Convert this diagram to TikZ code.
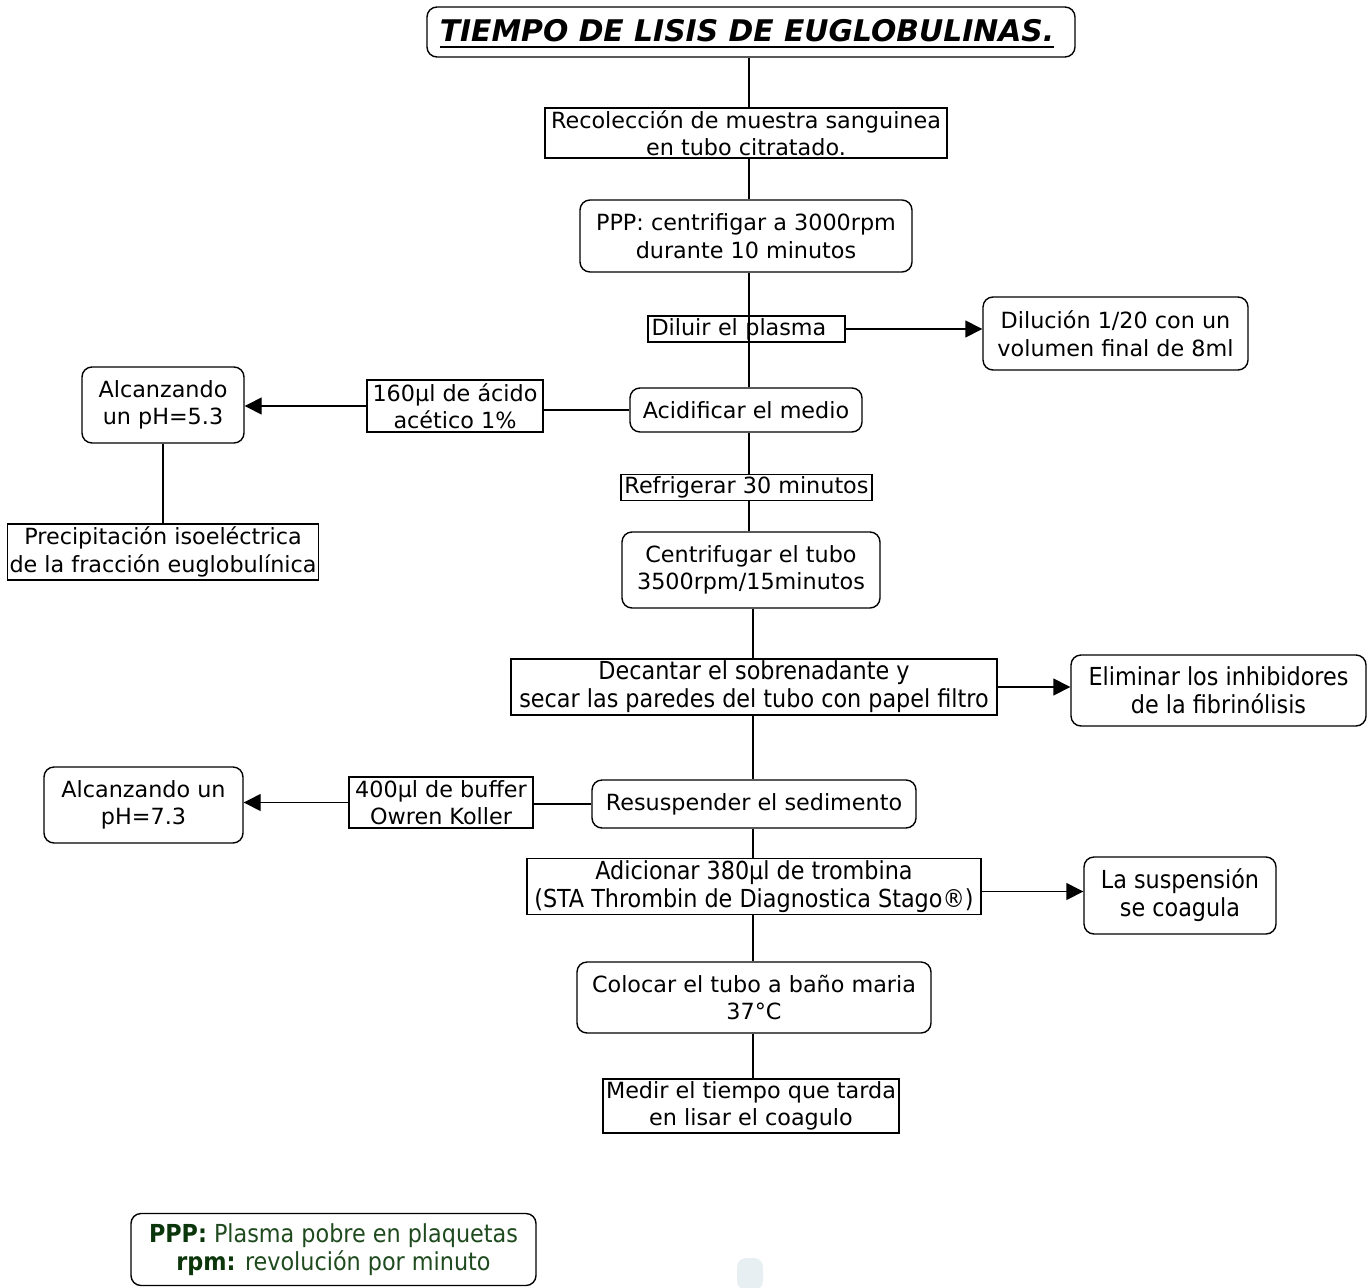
\documentclass[tikz,border=0pt]{standalone}
\usepackage{fontspec}
\setmainfont{DejaVu Sans}
\newfontfamily\condfont{DejaVu Sans Condensed}
\usetikzlibrary{arrows.meta}
\definecolor{legendgreen}{HTML}{1E4A1E}
\definecolor{legenddark}{HTML}{0B360B}
\definecolor{faintblue}{HTML}{E8EFF2}
\newcommand{\mainsize}{\fontsize{22.3}{27.5}\selectfont}
\newcommand{\condsize}{\condfont\fontsize{24.8}{28}\selectfont}

\begin{document}
\begin{tikzpicture}[x=1pt,y=-1pt,
  box/.style={draw, line width=1.4pt, inner sep=2pt, align=center, font=\mainsize},
  sq/.style={box},
  rbox/.style={box, rounded corners=10pt},
  cond/.style={font=\condsize},
  link/.style={line width=1.4pt},
  arr/.style={link, -{Triangle[length=17pt,width=17pt]}}]
\useasboundingbox (0,0) rectangle (1372,1287);

% title
\node[rbox, minimum width=648, minimum height=50] (title) at (751,32) {};
\node[inner sep=0pt, font=\fontsize{29.8}{34}\selectfont\bfseries\itshape] (titletext) at (747,31)
  {TIEMPO DE LISIS DE EUGLOBULINAS.};
\draw[line width=2.4pt] ([yshift=-5pt]titletext.base west) -- ([yshift=-5pt]titletext.base east);

% main column
\node[sq, minimum width=402, minimum height=50] (recol) at (746,133) {Recolección de muestra sanguinea\\en tubo citratado.};
\node[rbox, minimum width=332, minimum height=72] (ppp) at (746,236) {PPP: centrifigar a 3000rpm\\durante 10 minutos};
\node[sq, minimum width=197, minimum height=26, text width=190, align=left, inner xsep=3pt] (diluir) at (746.5,329) {Diluir el plasma};
\node[rbox, minimum width=232, minimum height=44] (acid) at (746,410) {Acidificar el medio};
\node[sq, minimum width=251, minimum height=25] (refr) at (746.5,487.5) {Refrigerar 30 minutos};
\node[rbox, minimum width=258, minimum height=76] (cent) at (751,570) {Centrifugar el tubo\\3500rpm/15minutos};
\node[sq, cond, minimum width=486, minimum height=54] (dec) at (754,687) {Decantar el sobrenadante y\\secar las paredes del tubo con papel filtro};
\node[rbox, minimum width=324, minimum height=48] (resus) at (754,804) {Resuspender el sedimento};
\node[sq, cond, minimum width=454, minimum height=53] (adic) at (754,886.5) {Adicionar 380µl de trombina\\(STA Thrombin de Diagnostica Stago®)};
\node[rbox, minimum width=354, minimum height=71] (bano) at (754,997.5) {Colocar el tubo a baño maria\\37°C};
\node[sq, minimum width=296, minimum height=54] (medir) at (751,1106) {Medir el tiempo que tarda\\en lisar el coagulo};

% side branches
\node[rbox, minimum width=265, minimum height=73] (dilres) at (1115.5,333.5) {Dilución 1/20 con un\\volumen final de 8ml};
\node[sq, minimum width=176, minimum height=52] (acet) at (455,406) {160µl de ácido\\acético 1\%};
\node[rbox, minimum width=162, minimum height=76] (ph5) at (163,405) {Alcanzando\\un pH=5.3};
\node[sq, minimum width=310, minimum height=56] (prec) at (163,552) {Precipitación isoeléctrica\\de la fracción euglobulínica};
\node[rbox, cond, minimum width=295, minimum height=71] (elim) at (1218.5,690.5) {Eliminar los inhibidores\\de la fibrinólisis};
\node[sq, minimum width=184, minimum height=51] (buf) at (441,802.5) {400µl de buffer\\Owren Koller};
\node[rbox, minimum width=199, minimum height=76] (ph7) at (143.5,805) {Alcanzando un\\pH=7.3};
\node[rbox, cond, minimum width=192, minimum height=77] (susp) at (1180,895.5) {La suspensión\\se coagula};

% legend
\node[rbox, cond, minimum width=405, minimum height=72, text=legendgreen] (legend) at (333.5,1249.5)
  {{\color{legenddark}\bfseries PPP:} Plasma pobre en plaquetas\\{\color{legenddark}\bfseries rpm:} revolución por minuto};

% trunk
\coordinate (t1) at (749,0);
\coordinate (t2) at (753,0);
\draw[link] (title.south -| t1) -- (recol.north -| t1);
\draw[link] (recol.south -| t1) -- (ppp.north -| t1);
\draw[link] (ppp.south -| t1) -- (acid.north -| t1);
\draw[link] (acid.south -| t1) -- (refr.north -| t1);
\draw[link] (refr.south -| t1) -- (cent.north -| t1);
\draw[link] (cent.south -| t2) -- (dec.north -| t2);
\draw[link] (dec.south -| t2) -- (resus.north -| t2);
\draw[link] (resus.south -| t2) -- (adic.north -| t2);
\draw[link] (adic.south -| t2) -- (bano.north -| t2);
\draw[link] (bano.south -| t2) -- (medir.north -| t2);

% branches
\draw[arr] (diluir.east) -- (diluir.east -| dilres.west);
\draw[link] (acid.west) -- (acid.west -| acet.east);
\draw[arr] (acet.west) -- (acet.west -| ph5.east);
\draw[link] (ph5.south) -- (prec.north);
\draw[arr] (dec.east) -- (dec.east -| elim.west);
\draw[link] (resus.west) -- (resus.west -| buf.east);
\draw[arr] (buf.west) -- (buf.west -| ph7.east);
\draw[arr] ([yshift=-5pt]adic.east) -- ([yshift=-5pt]adic.east -| susp.west);

% pale mark at the bottom edge
\fill[faintblue, rounded corners=9pt] (737,1290) -- (737,1258) -- (763,1258) -- (763,1290) -- cycle;
\end{tikzpicture}
\end{document}
